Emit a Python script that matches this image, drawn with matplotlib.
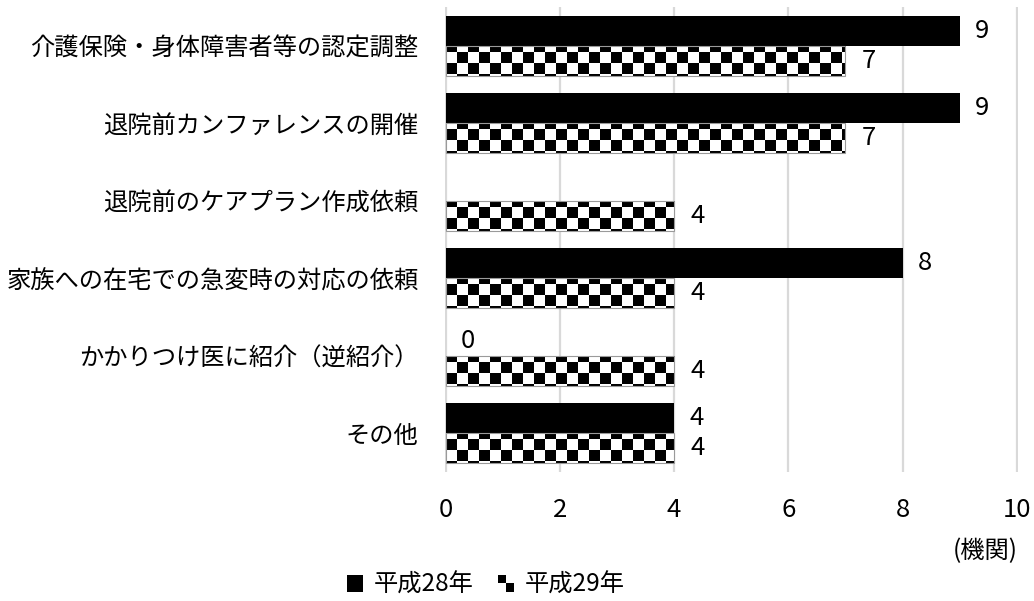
import numpy as np
import matplotlib
matplotlib.use("Agg")
from matplotlib import pyplot as plt
from matplotlib.patches import Rectangle
from matplotlib.legend_handler import HandlerBase

plt.rcParams['font.family'] = ['Noto Sans CJK JP', 'DejaVu Sans']

# categories (top to bottom) and counts per year
categories = ['介護保険・身体障害者等の認定調整',
              '退院前カンファレンスの開催',
              '退院前のケアプラン作成依頼',
              '家族への在宅での急変時の対応の依頼',
              'かかりつけ医に紹介（逆紹介）',
              'その他']
h28 = [9, 9, None, 8, 0, 4]
h29 = [7, 7, 4, 4, 4, 4]
series_names = ['平成28年', '平成29年']
xticks = [0, 2, 4, 6, 8, 10]
unit_label = '(機関)'

FS = 17.5      # category / legend text
NUM_FS = 18.5  # numbers
bar_h = 0.387
grid_col = '#d9d9d9'


def checker(ncols, nrows):
    # 0/1 checkerboard texture
    i, j = np.indices((nrows, ncols))
    return (i + j) % 2


class CheckerHandler(HandlerBase):
    def create_artists(self, legend, orig_handle, xdescent, ydescent,
                       width, height, fontsize, trans):
        s = height / 2.0
        x0, y0 = -xdescent, -ydescent
        bg = Rectangle((x0, y0), 2 * s, 2 * s, facecolor='white',
                       edgecolor='none', transform=trans)
        a = Rectangle((x0, y0 + s), s, s, facecolor='black',
                      edgecolor='none', transform=trans)
        b = Rectangle((x0 + s, y0), s, s, facecolor='black',
                      edgecolor='none', transform=trans)
        return [bg, a, b]


fig = plt.figure(figsize=(10.34, 6.01), dpi=100)
ax = fig.add_axes([445 / 1034, 1 - 472 / 601, 573 / 1034, 465 / 601])

y = np.arange(len(categories))
xlim = (0, 10)
ylim = (-0.5, len(categories) - 0.5)

# 平成28年: solid black bars
for yi, v in zip(y, h28):
    if v is None:
        continue
    ax.barh(yi - bar_h / 2, v, height=bar_h, color='black', zorder=3)
    ax.annotate(str(v), (v, yi - bar_h / 2), xytext=(15, 0),
                textcoords='offset pixels', ha='left', va='center',
                fontsize=NUM_FS)

# 平成29年: checkerboard bars (texture clipped to each bar)
tex = checker(52, 42)
for yi, v in zip(y, h29):
    bars = ax.barh(yi + bar_h / 2, v, height=bar_h, facecolor='none',
                   edgecolor='#9a9a9a', linewidth=0.8, zorder=4)
    im = ax.imshow(tex, cmap='gray_r', vmin=0, vmax=1, aspect='auto',
                   interpolation='nearest', extent=(xlim[0], xlim[1],
                                                    ylim[1], ylim[0]),
                   zorder=3)
    im.set_clip_path(bars.patches[0])
    ax.annotate(str(v), (v, yi + bar_h / 2), xytext=(16, 0),
                textcoords='offset pixels', ha='left', va='center',
                fontsize=NUM_FS)

ax.set_xlim(-0.01, 10.02)
ax.set_ylim(ylim[1], ylim[0])
ax.set_yticks(y)
ax.set_yticklabels(categories, fontsize=FS)
ax.set_xticks(xticks)
ax.set_xticklabels([str(t) for t in xticks], fontsize=NUM_FS)
ax.tick_params(axis='both', length=0)
ax.tick_params(axis='y', pad=19)
ax.tick_params(axis='x', pad=18)
ax.grid(axis='x', color=grid_col, linewidth=1.6, zorder=0)
ax.set_axisbelow(True)
for s in ax.spines.values():
    s.set_visible(False)

fig.text(1018 / 1034, 1 - 551 / 601, unit_label, ha='right', va='center',
         fontsize=FS)

handles = [Rectangle((0, 0), 1, 1, facecolor='black'),
           Rectangle((0, 0), 1, 1, facecolor='white')]
fig.legend(handles, series_names, loc='center',
           bbox_to_anchor=(486 / 1034, 1 - 585 / 601), ncol=2,
           frameon=False, fontsize=FS, handlelength=0.65,
           handleheight=0.65, handletextpad=0.45, columnspacing=1.0,
           handler_map={handles[1]: CheckerHandler()})

fig.savefig('out.png', dpi=100)
